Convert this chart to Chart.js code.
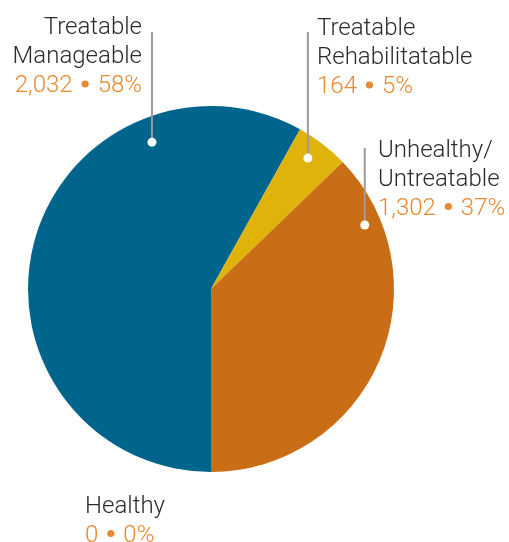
<!DOCTYPE html>
<html>
<head>
<meta charset="utf-8">
<script src="https://cdn.jsdelivr.net/npm/chart.js@4.4.0/dist/chart.umd.min.js"></script>
<style>
	html, body { margin: 0; padding: 0; background: #fff; }
	#wrap { width: 509px; height: 542px; position: relative; }
</style>
</head>
<body>
<div id="wrap"><canvas id="pie-chart"></canvas></div>
<script>
const categories = ['Healthy', 'Treatable Manageable', 'Treatable Rehabilitatable', 'Unhealthy/ Untreatable']
const counts = [0, 2032, 164, 1302]
const labelLines = [
	['Healthy'],
	['Treatable', 'Manageable'],
	['Treatable', 'Rehabilitatable'],
	['Unhealthy/', 'Untreatable'],
]
const sliceColors = ['#2a9d8f', '#00658d', '#e0b30b', '#c96e17']

// where each label sits; leader dot given as angle (deg from top) and radius fraction
const labelSpots = [
	{ x: 85, y: 512.5, align: 'left', dot: null },
	{ x: 142, y: 34, align: 'right', dot: { angle: -21.9, r: 0.865 }, lineTop: 32 },
	{ x: 317, y: 35, align: 'left', dot: { angle: 36.5, r: 0.89 }, lineTop: 32 },
	{ x: 378, y: 156.5, align: 'left', dot: { angle: 67.4, r: 0.91 }, lineTop: 148 },
]

const total = counts.reduce((a, b) => a + b, 0)
const fmt = n => n.toLocaleString('en-US')
const FONT = '300 24px Roboto, sans-serif'
const LINE_GAP = 29

const calloutPlugin = {
	id: 'callouts',
	afterDraw(chart) {
		const ctx = chart.ctx
		const arc = chart.getDatasetMeta(0).data[1]
		const cx = arc.x
		const cy = arc.y
		const R = arc.outerRadius
		ctx.save()
		labelSpots.forEach((spot, i) => {
			if (spot.dot) {
				const a = (spot.dot.angle * Math.PI) / 180
				const dx = cx + Math.sin(a) * R * spot.dot.r
				const dy = cy - Math.cos(a) * R * spot.dot.r
				ctx.strokeStyle = '#9a9a9a'
				ctx.lineWidth = 2
				ctx.beginPath()
				ctx.moveTo(dx, spot.lineTop)
				ctx.lineTo(dx, dy)
				ctx.stroke()
				ctx.fillStyle = '#ffffff'
				ctx.beginPath()
				ctx.arc(dx, dy, 4.5, 0, Math.PI * 2)
				ctx.fill()
			}
			ctx.font = FONT
			ctx.textBaseline = 'alphabetic'
			ctx.textAlign = spot.align
			ctx.fillStyle = '#2b2b2b'
			let y = spot.y
			labelLines[i].forEach(line => {
				ctx.fillText(line, spot.x, y)
				y += LINE_GAP
			})
			// value line: "count ● pct%"
			const pct = Math.round((counts[i] / total) * 100)
			const left = `${fmt(counts[i])}`
			const right = `${pct}%`
			const gap = 12.5
			const wL = ctx.measureText(left).width
			const wR = ctx.measureText(right).width
			const full = wL + gap * 2 + wR
			let x0 = spot.align === 'right' ? spot.x - full : spot.x
			ctx.textAlign = 'left'
			ctx.fillStyle = '#e8892f'
			ctx.fillText(left, x0, y)
			ctx.beginPath()
			ctx.arc(x0 + wL + gap, y - 8, 3.6, 0, Math.PI * 2)
			ctx.fill()
			ctx.fillText(right, x0 + wL + gap * 2, y)
		})
		ctx.restore()
	},
}

function drawPieChart() {
	const canvas = document.getElementById('pie-chart')
	new Chart(canvas, {
		type: 'pie',
		data: {
			labels: categories,
			datasets: [
				{
					data: counts,
					backgroundColor: sliceColors,
					borderWidth: 0,
				},
			],
		},
		options: {
			responsive: true,
			maintainAspectRatio: false,
			animation: false,
			rotation: 180,
			layout: {
				padding: { left: 28, right: 115, top: 106, bottom: 70 },
			},
			plugins: {
				legend: { display: false },
				tooltip: { enabled: false },
			},
		},
		plugins: [calloutPlugin],
	})
}
drawPieChart()
</script>
</body>
</html>
